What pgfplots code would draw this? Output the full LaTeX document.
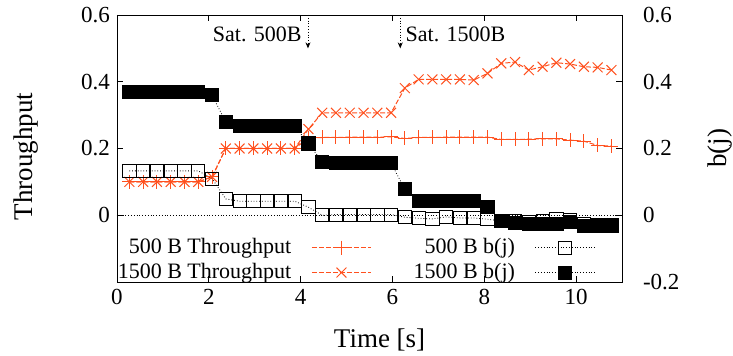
\documentclass[border=0pt]{standalone}
\usepackage{fontspec}
\setmainfont{Liberation Serif}
\usepackage{pgfplots}
\usepackage{pgfplotstable}
\pgfplotsset{compat=1.18}
\usetikzlibrary{arrows.meta}
\definecolor{thr}{RGB}{255,80,30}

\pgfplotstableread{
x     t500  t1500  b500    b1500
0.27  0.100 0.100  0.133   0.370
0.57  0.100 0.100  0.133   0.370
0.87  0.100 0.100  0.133   0.370
1.17  0.100 0.100  0.133   0.370
1.47  0.100 0.100  0.133   0.370
1.77  0.100 0.100  0.133   0.370
2.07  0.115 0.115  0.110   0.360
2.37  0.200 0.200  0.049   0.279
2.67  0.200 0.200  0.042   0.267
2.97  0.200 0.200  0.042   0.267
3.27  0.200 0.200  0.042   0.267
3.57  0.200 0.200  0.042   0.267
3.87  0.200 0.200  0.042   0.267
4.17  0.231 0.258  0.024   0.215
4.47  0.233 0.307  0.000   0.160
4.77  0.233 0.307  0.002   0.156
5.07  0.234 0.307  0.002   0.156
5.37  0.234 0.307  0.002   0.156
5.67  0.234 0.307  0.002   0.156
5.97  0.235 0.307  0.002   0.156
6.27  0.230 0.381 -0.006   0.078
6.57  0.233 0.407 -0.009   0.042
6.87  0.233 0.407 -0.011   0.042
7.17  0.234 0.407 -0.005   0.042
7.47  0.234 0.407 -0.008   0.042
7.77  0.234 0.405 -0.008   0.042
8.07  0.234 0.425 -0.012   0.024
8.37  0.227 0.455 -0.017  -0.018
8.67  0.227 0.459 -0.018  -0.022
8.97  0.228 0.435 -0.021  -0.027
9.27  0.229 0.445 -0.018  -0.027
9.57  0.229 0.457 -0.012  -0.027
9.87  0.225 0.453 -0.015  -0.020
10.17 0.222 0.445 -0.025  -0.032
10.47 0.209 0.443 -0.028  -0.033
10.77 0.207 0.435 -0.028  -0.033
}\data

\begin{document}
\begin{tikzpicture}[font=\fontsize{11}{13}\selectfont]
\begin{axis}[
  scale only axis, width=252.5pt, height=133.5pt,
  xmin=0, xmax=11, ymin=-0.2, ymax=0.6,
  xtick={0,2,...,10}, ytick={0,0.2,0.4,0.6},
  ytick pos=left, xtick pos=both,
  tick align=inside, major tick length=3pt,
  tick style={black, thin},
  tick label style={font=\fontsize{11.5}{13}\selectfont},
  /pgf/number format/assume math mode=true,
  xlabel={Time [s]}, ylabel={Throughput},
  label style={font=\fontsize{13.5}{15}\selectfont},
  x label style={at={(axis description cs:0.52,-0.217)},anchor=center},
  y label style={at={(axis description cs:-0.18,0.47)},anchor=center},
  legend columns=2, legend cell align=right, legend plot pos=right,
  legend style={draw=none, fill=none, inner sep=0pt, outer sep=0pt,
    at={(axis description cs:0.9465,-0.004)}, anchor=south east,
    nodes={inner sep=0pt, text height=8pt, text depth=2.5pt},
    /tikz/row sep=2pt,
    /tikz/every odd column/.append style={column sep=10pt},
    /tikz/every even column/.append style={column sep=21pt}},
  legend image code/.code={\draw[mark repeat=2,mark phase=2,#1] plot coordinates {(0cm,0cm) (0.52cm,0cm) (1.04cm,0cm)};},
  thrline/.style={thr, line width=0.5pt, dash pattern=on 2.5pt off 1pt, mark size=3.5pt, mark options={solid}},
  bline/.style={black, line width=0.4pt, densely dotted, mark size=3.3pt, mark options={solid}},
]
\addlegendimage{thrline, mark=+}
\addlegendentry{500 B Throughput}
\addlegendimage{bline, mark=square}
\addlegendentry{500 B b(j)}
\addlegendimage{thrline, mark=x}
\addlegendentry{1500 B Throughput}
\addlegendimage{bline, mark=square*, mark options={solid, fill=black}}
\addlegendentry{1500 B b(j)}

\addplot[forget plot, black, densely dotted, thin] coordinates {(0,0) (11,0)};
\addplot[forget plot, thrline, mark=+] table[x=x,y=t500]{\data};
\addplot[forget plot, thrline, mark=x] table[x=x,y=t1500]{\data};
\addplot[forget plot, bline, mark=square] table[x=x,y=b500]{\data};
\addplot[forget plot, bline, mark=square*, mark options={solid, fill=black}] table[x=x,y=b1500]{\data};

\coordinate (bl) at (rel axis cs:0,0);
\coordinate (tr) at (rel axis cs:1,1);
\coordinate (bj) at (axis description cs:1.194,0.5);
\draw[densely dotted, thin, -{Stealth[length=3pt,width=2.5pt]}] (axis cs:4.16,0.6) -- (axis cs:4.16,0.5);
\node[anchor=east, inner sep=0pt] at (axis cs:4.03,0.543) {Sat. 500B};
\draw[densely dotted, thin, -{Stealth[length=3pt,width=2.5pt]}] (axis cs:6.17,0.6) -- (axis cs:6.17,0.5);
\node[anchor=west, inner sep=0pt] at (axis cs:6.28,0.543) {Sat. 1500B};
\end{axis}

\begin{axis}[
  scale only axis, width=252.5pt, height=133.5pt,
  xmin=0, xmax=11, ymin=-0.2, ymax=0.6,
  axis y line*=right, axis x line=none,
  ytick={-0.2,0,0.2,0.4,0.6},
  tick align=inside, major tick length=3pt,
  tick style={black, thin},
  yticklabel style={font=\fontsize{11.5}{13}\selectfont, xshift=7pt},
  /pgf/number format/assume math mode=true,
]
\end{axis}

\node[rotate=90, anchor=center, font=\fontsize{13.5}{15}\selectfont] at (bj) {b(j)};

\pgfresetboundingbox
\path[use as bounding box] ([shift={(-58.5pt,-37pt)}]bl) rectangle ([shift={(55.5pt,7.5pt)}]tr);
\end{tikzpicture}
\end{document}
